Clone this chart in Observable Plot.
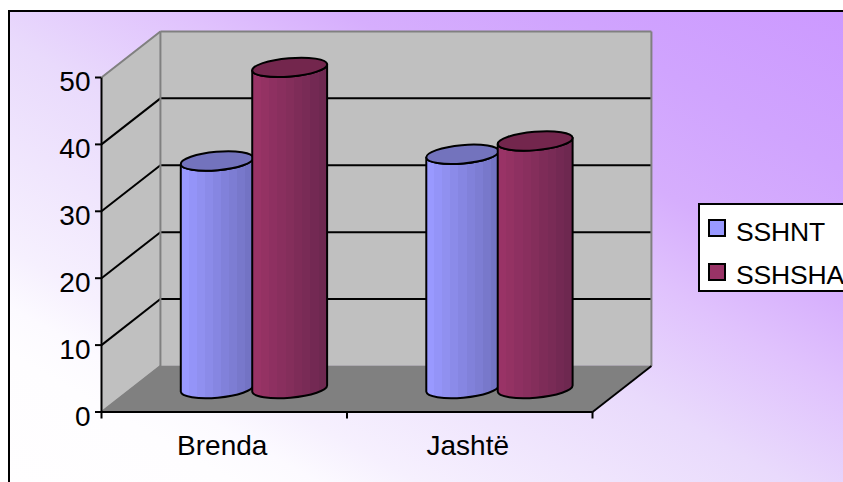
<!DOCTYPE html>
<html><head><meta charset="utf-8">
<style>
html,body{margin:0;padding:0;width:843px;height:482px;overflow:hidden;background:#fff;font-family:"Liberation Sans",Arial,sans-serif}
#wrap{position:relative;width:843px;height:482px;overflow:hidden}
#frame{position:absolute;left:8px;top:10px;width:842px;height:480px;border:2px solid #000;box-sizing:border-box;
 background:linear-gradient(to top right,#fffeff 0%,#fefdff 14%,#fcfaff 19%,#f6f0fe 25%,#e9dafc 47%,#e0c2fd 60%,#d6aefd 70%,#d0a4fe 83%,#cc99ff 100%)}
#plot{position:absolute;left:0;top:0}
#legend{position:absolute;left:698px;top:203px;width:200px;height:89px;box-sizing:border-box;border:2px solid #000;background:#fff}
.li{position:absolute;left:36px;font-size:26.5px;line-height:30px;color:#000;white-space:nowrap;letter-spacing:-.15px}
.sw{position:absolute;left:8px;width:18px;height:18px;box-sizing:border-box;border:2px solid #000}
</style>
<script src="https://cdn.jsdelivr.net/npm/d3@7"></script>
<script src="https://cdn.jsdelivr.net/npm/@observablehq/plot@0.6"></script>
</head><body>
<div id="wrap"><div id="frame"></div><div id="plot"></div>
<div id="legend"></div></div>
<script>
const categories = ["Brenda", "Jashtë"];
const seriesNames = ["SSHNT", "SSHSHA"];
const SSHNT = [34, 35];
const SSHSHA = [48, 37];
const yTicks = [0, 10, 20, 30, 40, 50];
const colors = ["#9999ff", "#993366"];
const sideEnd = ["#7373c4", "#6e2850"];
const capFill = ["#7373bd", "#73264d"];

const yMax = 50, xMax = categories.length;
const depthX = 0.24, depthY = 6.88;      // 3-D depth, in data units
const barW = [0.295, 0.305];             // bar width, in category units

const rows = categories.flatMap((c, i) => [
  {cat: i, s: 0, v: SSHNT[i]},
  {cat: i, s: 1, v: SSHSHA[i]}
]);

function defs() {
  const g = d3.create("svg:defs");
  colors.forEach((col, s) => {
    const lg = g.append("linearGradient").attr("id", "cyl" + s);
    const n = 9, ip = d3.interpolateRgb(col, sideEnd[s]);
    for (let k = 0; k < n; k++) {
      lg.append("stop").attr("offset", k / n).attr("stop-color", ip(k / (n - 1)));
      lg.append("stop").attr("offset", (k + 1) / n).attr("stop-color", ip(k / (n - 1)));
    }
  });
  return g.node();
}

function cylinders(index, scales) {
  const g = d3.create("svg:g");
  const ry = 9.2, tilt = 3.2;
  for (const r of rows) {
    const c = r.cat + 0.5 + depthX / 2;
    const a = r.s === 0 ? c - barW[0] : c - 0.004;
    const x0 = scales.x(a), x1 = scales.x(a + barW[r.s]);
    const yb = scales.y(depthY / 2), yt = scales.y(r.v + depthY / 2);
    const rx = Math.hypot((x1 - x0) / 2, tilt);
    const rot = Math.atan2(-tilt, (x1 - x0) / 2) * 180 / Math.PI;
    const arc = (sw, x, y) => `A${rx} ${ry} ${rot} 0 ${sw} ${x} ${y}`;
    g.append("path")
      .attr("d", `M${x0} ${yt + tilt}L${x0} ${yb + tilt}${arc(0, x1, yb - tilt)}L${x1} ${yt - tilt}${arc(1, x0, yt + tilt)}Z`)
      .attr("fill", `url(#cyl${r.s})`).attr("stroke", "#000").attr("stroke-width", 2).attr("stroke-linejoin", "round");
    g.append("path")
      .attr("d", `M${x0} ${yt + tilt}${arc(1, x1, yt - tilt)}${arc(1, x0, yt + tilt)}Z`)
      .attr("fill", capFill[r.s]).attr("stroke", "#000").attr("stroke-width", 2);
  }
  return g.node();
}

const gridVals = yTicks.filter(v => v > 0 && v < yMax);
const wall = [{x: 0, y1: 0, y2: yMax}, {x: depthX, y1: depthY, y2: yMax + depthY}];
const floor = [{y: 0, x1: 0, x2: xMax}, {y: depthY, x1: depthX, x2: xMax + depthX}];
const grayEdges = [
  {x1: 0, y1: yMax, x2: depthX, y2: yMax + depthY},
  {x1: 0, y1: 0, x2: depthX, y2: depthY},
  {x1: depthX, y1: yMax + depthY, x2: xMax + depthX, y2: yMax + depthY},
  {x1: depthX, y1: depthY, x2: depthX, y2: yMax + depthY},
  {x1: xMax + depthX, y1: depthY, x2: xMax + depthX, y2: yMax + depthY}
];
const blackEdges = [
  {x1: 0, y1: 0, x2: 0, y2: yMax},
  {x1: 0, y1: 0, x2: xMax, y2: 0},
  {x1: xMax, y1: 0, x2: xMax + depthX, y2: depthY}
];

const chart = Plot.plot({
  width: 843, height: 482,
  marginLeft: 101, marginRight: 251, marginTop: 77, marginBottom: 70.5,
  style: {background: "transparent", fontFamily: "'Liberation Sans',Arial,sans-serif", overflow: "visible"},
  x: {domain: [0, xMax], axis: null},
  y: {domain: [0, yMax], axis: null},
  marks: [
    defs,
    Plot.rect([{}], {x1: depthX, x2: xMax + depthX, y1: depthY, y2: yMax + depthY, fill: "#c0c0c0"}),
    Plot.areaY(wall, {x: "x", y1: "y1", y2: "y2", fill: "#c0c0c0"}),
    Plot.areaX(floor, {y: "y", x1: "x1", x2: "x2", fill: "#808080"}),
    Plot.link(gridVals, {x1: 0, x2: depthX, y1: d => d, y2: d => d + depthY, stroke: "#000", strokeWidth: 2}),
    Plot.link(gridVals, {x1: depthX, x2: xMax + depthX, y1: d => d + depthY, y2: d => d + depthY, stroke: "#000", strokeWidth: 2}),
    Plot.link(grayEdges, {x1: "x1", y1: "y1", x2: "x2", y2: "y2", stroke: "#808080", strokeWidth: 2}),
    Plot.link(blackEdges, {x1: "x1", y1: "y1", x2: "x2", y2: "y2", stroke: "#000", strokeWidth: 2}),
    cylinders,
    Plot.axisY({ticks: yTicks, tickSize: 6, tickFormat: () => "", stroke: "#000", strokeWidth: 2, strokeOpacity: 1}),
    Plot.axisY({ticks: yTicks, tickSize: 0, tickPadding: 11, dy: 5, fontSize: 28, fill: "#000", label: null}),
    Plot.axisX({ticks: d3.range(xMax + 1), tickSize: 7, tickFormat: () => "", stroke: "#000", strokeWidth: 2, strokeOpacity: 1, label: null}),
    Plot.text(categories, {x: (d, i) => i + 0.5, y: 0, dy: 34, text: d => d, fontSize: 28, fill: "#000", dx: -2})
  ]
});
document.getElementById("plot").append(chart);

const legend = document.getElementById("legend");
const swatchTop = [14, 58], textTop = [12, 55];
seriesNames.forEach((n, i) => {
  const s = document.createElement("div"); s.className = "sw";
  s.style.top = swatchTop[i] + "px"; s.style.background = colors[i];
  const t = document.createElement("div"); t.className = "li";
  t.style.top = textTop[i] + "px"; t.textContent = n;
  legend.append(s, t);
});
</script>
</body></html>
